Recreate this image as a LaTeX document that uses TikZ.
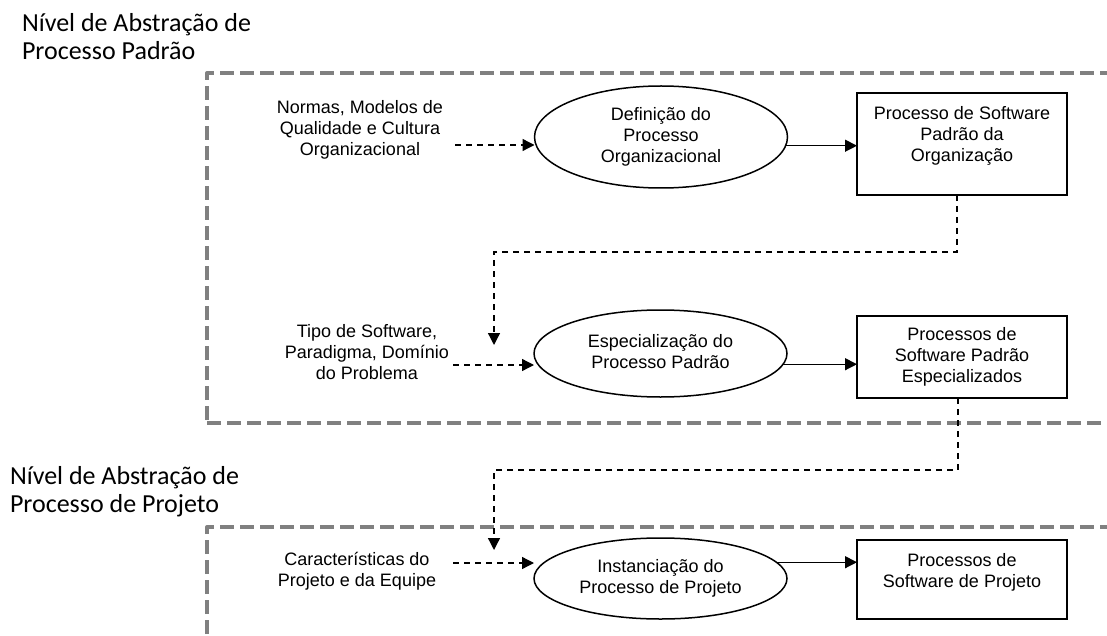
\documentclass[tikz,border=0pt]{standalone}
\usepackage{fontspec}
\setmainfont{Liberation Sans}
\newfontfamily\titlefont{Carlito}
\usetikzlibrary{arrows.meta,shapes.geometric}
\definecolor{framegray}{HTML}{808080}
% centred and left-aligned multi-line text blocks
\newcommand{\mltext}[1]{\begin{tabular}{@{}c@{}}#1\end{tabular}}
\newcommand{\mlleft}[1]{\begin{tabular}[t]{@{}l@{}}#1\end{tabular}}
\begin{document}
\begin{tikzpicture}[x=1pt,y=-1pt,
  every node/.style={inner sep=0pt, outer sep=0pt},
  levelframe/.style={draw=framegray, line width=4pt, dash pattern=on 14pt off 6pt, line join=round},
  leveltitle/.style={anchor=base west, font=\titlefont\fontsize{26}{28}\selectfont},
  txt/.style={font=\fontsize{18}{21}\selectfont},
  activity/.style={ellipse, draw, line width=1.5pt, minimum width=253pt, txt},
  product/.style={rectangle, draw, line width=1.5pt, minimum width=210pt},
  flow/.style={line width=1.3pt, -{Triangle[length=12pt,width=12pt]}},
  dep/.style={flow, dash pattern=on 6pt off 5pt},
]
\useasboundingbox (0,0) rectangle (1107,636);
\clip (0,0) rectangle (1107,636);

% abstraction level frames
\draw[levelframe, dash phase=17pt] (207,423) -- (207,73) -- (1130,73);
\draw[levelframe] (207,423) -- (1130,423);
\draw[levelframe, dash phase=14pt] (207,660) -- (207,527) -- (1130,527);

% level titles
\node[leveltitle] (lvl1) at (22,31.7) {\mlleft{Nível de Abstração de\\Processo Padrão}};
\node[leveltitle] (lvl2) at (10,484) {\mlleft{Nível de Abstração de\\Processo de Projeto}};

% inputs
\node[txt] (in1) at (360,130) {\mltext{Normas, Modelos de\\Qualidade e Cultura\\Organizacional}};
\node[txt] (in2) at (367,353.8) {\mltext{Tipo de Software,\\Paradigma, Domínio\\do Problema}};
\node[txt] (in3) at (357,571.8) {\mltext{Características do\\Projeto e da Equipe}};

% activities
\node[activity, minimum height=102pt] (el1) at (661,137) {\mltext{Definição do\\Processo\\Organizacional}};
\node[activity, minimum height=87pt] (el2) at (660.5,353.5) {\mltext{Especialização do\\Processo Padrão}};
\node[activity, minimum height=81pt] (el3) at (660.5,578.5) {\mltext{Instanciação do\\Processo de Projeto}};

% products
\node[product, minimum height=102pt] (box1) at (962,144) {};
\node[txt] (box1t) at (962,136.5) {\mltext{Processo de Software\\Padrão da\\Organização}};
\node[product, minimum height=82pt] (box2) at (962,357) {};
\node[txt] (box2t) at (962,356.8) {\mltext{Processos de\\Software Padrão\\Especializados}};
\node[product, minimum height=79pt] (box3) at (962,579.5) {};
\node[txt] (box3t) at (962,572.8) {\mltext{Processos de\\Software de Projeto}};

% connector end points
\coordinate (s1) at (455,145);
\coordinate (s2) at (453,365);
\coordinate (s3) at (453,563);
\coordinate (j1) at (494,252);
\coordinate (t1) at (494,345);
\coordinate (j2) at (494,470);
\coordinate (t2) at (494,550);

% connectors
\draw[dep] (s1) -- (s1 -| el1.west);
\draw[dep] (s2) -- (s2 -| el2.west);
\draw[dep] (s3) -- (s3 -| el3.west);
\draw[flow] (el1.-4) -- (el1.-4 -| box1.west);
\draw[flow] (el2.-5) -- (el2.-5 -| box2.west);
\draw[flow] (el3.8) -- (el3.8 -| box3.west);
\draw[dep] ([xshift=-5pt]box1.south) |- (j1) -- (t1);
\draw[dep] ([xshift=-4pt]box2.south) |- (j2) -- (t2);
\end{tikzpicture}
\end{document}
